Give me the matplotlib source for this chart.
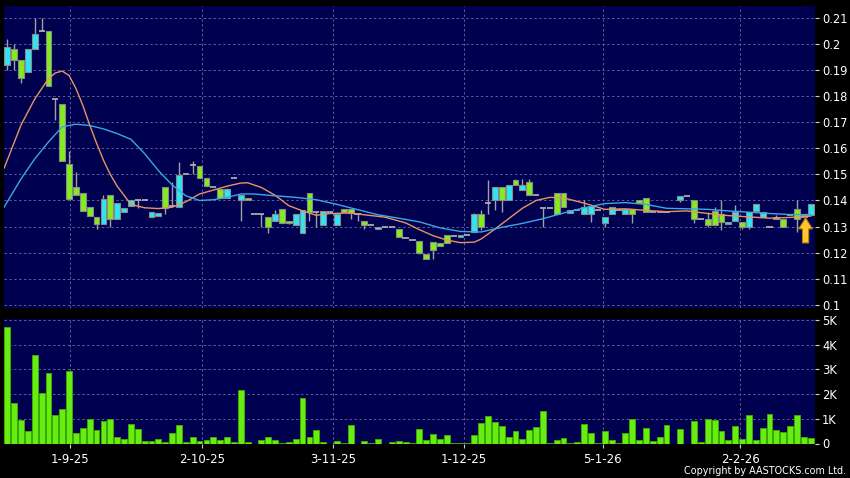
import numpy as np
import matplotlib.pyplot as plt
from matplotlib.patches import FancyArrow

# OHLC per trading day (None = no candle)
opens = [0.192, 0.198, 0.194, 0.1895, 0.198, 0.205, 0.205, 0.179, 0.177, 0.154,
         0.145, 0.1427, 0.1375, 0.1337, 0.131, 0.142, 0.133, 0.1356, 0.1377, 0.140,
         0.140, 0.1337, 0.134, 0.145, 0.138, 0.1375, 0.150, 0.1538, 0.1532, 0.1488,
         0.145, 0.1446, 0.1408, 0.1488, 0.140, 0.1408, 0.1348, 0.1348, 0.1337, 0.132,
         0.1369, 0.132, 0.1305, 0.1275, 0.1427, 0.1357, 0.1307, 0.1356, 0.1307, 0.1369,
         0.1367, 0.135, 0.132, 0.1307, 0.1289, 0.1298, 0.1298, 0.1289, 0.1255, 0.1248,
         0.1245, 0.1196, 0.124, 0.1237, 0.1269, 0.1265, 0.1258, 0.1268, 0.1279, 0.135,
         0.1389, 0.140, 0.145, 0.140, 0.148, 0.144, 0.147, 0.142, 0.137, 0.137,
         0.1427, 0.1427, 0.1352, 0.1365, 0.135, 0.135, 0.1365, 0.1315, 0.135, 0.1365,
         0.135, 0.1369, 0.140, 0.1408, 0.1356, 0.1356, 0.1356, None, 0.140, 0.1418,
         0.140, 0.1327, 0.1327, 0.1358, 0.135, 0.1309, 0.132, 0.1318, 0.1298, 0.1358,
         0.1337, 0.1298, 0.1337, 0.1327, 0.1345, 0.1369, 0.1337, 0.1345]
highs = [0.202, 0.200, 0.194, 0.198, 0.210, 0.210, 0.205, 0.179, 0.177, 0.159,
         0.151, 0.1427, 0.1375, 0.1337, 0.142, 0.142, 0.139, 0.137, 0.140, 0.140,
         0.140, 0.1356, 0.1353, 0.145, 0.147, 0.1548, 0.150, 0.1553, 0.1532, 0.1488,
         0.145, 0.1446, 0.1448, 0.1488, 0.142, 0.1408, 0.1348, 0.1348, 0.1337, 0.1363,
         0.1369, 0.132, 0.135, 0.1365, 0.1427, 0.1357, 0.1358, 0.1356, 0.1348, 0.1369,
         0.1367, 0.135, 0.132, 0.1307, 0.1298, 0.1298, 0.1298, 0.1289, 0.1255, 0.1248,
         0.1245, 0.1196, 0.124, 0.1237, 0.1269, 0.1265, 0.1268, 0.1268, 0.1352, 0.1365,
         0.148, 0.145, 0.145, 0.1459, 0.1483, 0.1483, 0.1482, 0.142, 0.137, 0.137,
         0.1427, 0.1427, 0.1363, 0.1365, 0.140, 0.1378, 0.1365, 0.1337, 0.1375, 0.1365,
         0.1369, 0.1369, 0.140, 0.1408, 0.1356, 0.1356, 0.1356, None, 0.1418, 0.1418,
         0.140, 0.1327, 0.1356, 0.1375, 0.140, 0.1318, 0.1382, 0.1318, 0.1356, 0.1388,
         0.1354, 0.1298, 0.1345, 0.1327, 0.1345, 0.140, 0.1345, 0.1388]
lows = [0.190, 0.190, 0.185, 0.1895, 0.198, 0.205, 0.184, 0.171, 0.155, 0.1405,
        0.142, 0.136, 0.134, 0.129, 0.131, 0.130, 0.133, 0.1356, 0.1377, 0.137,
        0.140, 0.1337, 0.134, 0.135, 0.138, 0.1375, 0.150, 0.150, 0.1488, 0.1456,
        0.145, 0.1408, 0.1408, 0.1488, 0.132, 0.140, 0.1348, 0.130, 0.1277, 0.132,
        0.1312, 0.131, 0.1305, 0.1275, 0.132, 0.130, 0.1307, 0.1356, 0.1307, 0.1356,
        0.1327, 0.132, 0.129, 0.1307, 0.1289, 0.1298, 0.1298, 0.1258, 0.1255, 0.1248,
        0.1196, 0.1177, 0.1177, 0.1225, 0.1237, 0.1265, 0.1258, 0.1268, 0.1279, 0.1285,
        0.135, 0.1365, 0.1356, 0.140, 0.1459, 0.144, 0.142, 0.142, 0.1298, 0.137,
        0.135, 0.1375, 0.1352, 0.1365, 0.135, 0.1318, 0.1365, 0.1298, 0.135, 0.1365,
        0.135, 0.1315, 0.139, 0.1356, 0.1356, 0.1356, 0.1356, None, 0.1395, 0.1418,
        0.1315, 0.1327, 0.1298, 0.1307, 0.1285, 0.1309, 0.132, 0.1289, 0.1289, 0.1358,
        0.1337, 0.1298, 0.1327, 0.1298, 0.1345, 0.128, 0.1337, 0.1345]
closes = [0.199, 0.194, 0.187, 0.198, 0.204, 0.205, 0.184, 0.179, 0.155, 0.1405,
          0.142, 0.136, 0.134, 0.131, 0.1405, 0.133, 0.139, 0.137, 0.140, 0.140,
          0.140, 0.1356, 0.1353, 0.137, 0.138, 0.1497, 0.150, 0.1538, 0.1488, 0.1456,
          0.145, 0.1408, 0.1446, 0.1488, 0.142, 0.140, 0.1348, 0.1348, 0.130, 0.135,
          0.1312, 0.1313, 0.135, 0.1365, 0.1357, 0.1357, 0.1358, 0.1356, 0.1348, 0.1356,
          0.1352, 0.135, 0.1307, 0.1307, 0.1298, 0.1298, 0.1298, 0.1258, 0.1255, 0.1248,
          0.1197, 0.1177, 0.121, 0.1225, 0.1237, 0.1265, 0.1268, 0.1268, 0.135, 0.1298,
          0.1389, 0.145, 0.140, 0.1459, 0.1459, 0.146, 0.142, 0.142, 0.137, 0.137,
          0.135, 0.1375, 0.1363, 0.1365, 0.1375, 0.1378, 0.1365, 0.1337, 0.1375, 0.1365,
          0.1369, 0.135, 0.139, 0.1356, 0.1356, 0.1356, 0.1356, None, 0.1418, 0.1418,
          0.1327, 0.1327, 0.1307, 0.1307, 0.1318, 0.1318, 0.1356, 0.1298, 0.1356, 0.1388,
          0.1354, 0.1298, 0.1327, 0.1298, 0.1345, 0.1327, 0.1345, 0.1388]
# volume in thousands
volumes = [4.73, 1.64, 0.96, 0.51, 3.57, 2.05, 2.85, 1.17, 1.39, 2.92,
           0.41, 0.64, 1.01, 0.55, 0.92, 1.01, 0.25, 0.20, 0.77, 0.60,
           0.12, 0.12, 0.17, 0.07, 0.44, 0.76, 0.07, 0.25, 0.12, 0.16,
           0.27, 0.13, 0.28, 0.08, 2.16, 0.08, 0.0, 0.16, 0.27, 0.15,
           0.02, 0.07, 0.19, 1.84, 0.27, 0.55, 0.07, 0.0, 0.10, 0.02,
           0.76, 0.0, 0.09, 0.04, 0.20, 0.0, 0.08, 0.12, 0.08, 0.04,
           0.60, 0.13, 0.40, 0.17, 0.36, 0.04, 0.04, 0.02, 0.33, 0.81,
           1.13, 0.89, 0.72, 0.27, 0.49, 0.17, 0.53, 0.67, 1.32, 0.04,
           0.16, 0.23, 0.04, 0.05, 0.77, 0.44, 0.03, 0.52, 0.16, 0.04,
           0.43, 0.99, 0.13, 0.63, 0.11, 0.27, 0.75, 0.0, 0.57, 0.0,
           0.92, 0.08, 1.00, 0.97, 0.51, 0.13, 0.71, 0.17, 1.16, 0.15,
           0.61, 1.20, 0.53, 0.48, 0.72, 1.16, 0.27, 0.21]

# moving averages (bar index, value)
ma_short_x = [-0.45, 0, 2, 4, 6, 7, 8, 9, 10, 11, 12, 13, 14, 15, 16, 17, 18, 20, 22, 24,
              26, 28, 30, 32, 34, 35, 37, 39, 41, 43, 45, 47, 50, 52, 55, 58, 60, 62, 64,
              66, 68, 69, 71, 73, 75, 77, 79, 81, 84, 87, 90, 93, 96, 99, 102, 105, 108,
              111, 114, 117]
ma_short = [0.1525, 0.1555, 0.169, 0.179, 0.1868, 0.189, 0.1897, 0.188, 0.183, 0.1765,
            0.169, 0.162, 0.1555, 0.150, 0.1455, 0.142, 0.1385, 0.1372, 0.1369, 0.1374,
            0.1395, 0.1425, 0.144, 0.1455, 0.1467, 0.1468, 0.145, 0.142, 0.138, 0.136,
            0.1343, 0.135, 0.1352, 0.1345, 0.1336, 0.1314, 0.1288, 0.1265, 0.1248,
            0.1238, 0.124, 0.1252, 0.129, 0.133, 0.137, 0.140, 0.1412, 0.141, 0.139,
            0.1366, 0.1368, 0.1362, 0.1357, 0.136, 0.135, 0.1342, 0.1337, 0.1332,
            0.1335, 0.134]
ma_long_x = [-0.45, 2, 4, 6, 8, 10, 12, 14, 16, 18, 20, 22, 24, 26, 28, 30, 32, 34, 36,
             38, 42, 45, 48, 51, 54, 57, 60, 63, 66, 69, 72, 75, 78, 81, 84, 87, 90, 93,
             96, 99, 102, 105, 108, 111, 114, 117]
ma_long = [0.1375, 0.1483, 0.156, 0.1625, 0.1683, 0.1693, 0.1688, 0.1675, 0.1657,
           0.1635, 0.158, 0.1515, 0.146, 0.1418, 0.140, 0.1403, 0.1412, 0.1425, 0.1425,
           0.142, 0.1412, 0.1403, 0.1385, 0.1365, 0.1345, 0.1332, 0.1318, 0.1295,
           0.1281, 0.1279, 0.1297, 0.1312, 0.133, 0.1352, 0.1372, 0.1388, 0.1392,
           0.1385, 0.137, 0.1368, 0.1366, 0.136, 0.1355, 0.135, 0.1346, 0.1346]

date_ticks = [9.2, 28.3, 47.4, 66.5, 86.7, 106.7]
date_labels = ['1-9-25', '2-10-25', '3-11-25', '1-12-25', '5-1-26', '2-2-26']
price_ticks = [0.10, 0.11, 0.12, 0.13, 0.14, 0.15, 0.16, 0.17, 0.18, 0.19, 0.20, 0.21]
price_labels = ['0.1', '0.11', '0.12', '0.13', '0.14', '0.15', '0.16', '0.17',
                '0.18', '0.19', '0.2', '0.21']
vol_ticks = [0, 1, 2, 3, 4, 5]
vol_labels = ['0', '1K', '2K', '3K', '4K', '5K']

plt.rcParams['font.family'] = 'DejaVu Sans'

navy = '#000050'
grid_c = '#5e5e90'
cyan = '#30e4f2'
green = '#84ec1e'

fig = plt.figure(figsize=(8.5, 4.78), dpi=100, facecolor='black')
ax1 = fig.add_axes([4 / 850, 1 - 307.5 / 478, 811 / 850, 301.5 / 478])
ax2 = fig.add_axes([4 / 850, 1 - 443.5 / 478, 811 / 850, 124.5 / 478])

o = np.array(opens, dtype=float)
h = np.array(highs, dtype=float)
l = np.array(lows, dtype=float)
c = np.array(closes, dtype=float)
idx = np.arange(len(o))
valid = ~np.isnan(o)
up = valid & (c > o)
down = valid & (c < o)
flat = valid & (c == o)

ax1.vlines(idx[valid], l[valid], h[valid], color='#a0a0a0', lw=1, zorder=2)
ax1.bar(idx[up], c[up] - o[up], bottom=o[up], width=0.85, color=cyan,
        edgecolor='#8a8a8a', lw=0.8, zorder=3)
ax1.bar(idx[down], o[down] - c[down], bottom=c[down], width=0.85, color=green,
        edgecolor='#8a8a8a', lw=0.8, zorder=3)
ax1.hlines(o[flat], idx[flat] - 0.45, idx[flat] + 0.45, color='#b8b8b8', lw=1.2, zorder=3)

ax1.plot(ma_short_x, ma_short, color='#e89460', lw=1, zorder=4)
ax1.plot(ma_long_x, ma_long, color='#3aa8e6', lw=1, zorder=4)

# yellow arrow under the latest bar
ax_x = len(o) - 1.75
ax_top = l[-2] - 0.0004
ax1.add_patch(FancyArrow(ax_x, ax_top - 0.0096, 0, 0.0096, width=0.9, head_width=2.0,
                         head_length=0.0042, length_includes_head=True,
                         fc='#ffc832', ec='#b88000', lw=0.8, zorder=5))

ax2.bar(idx, volumes, width=0.85, color='#66ee12', edgecolor='#3fa800', lw=0.7, zorder=3)

xlim = (-0.48, 117.62)
for ax in (ax1, ax2):
    ax.set_facecolor(navy)
    ax.set_xlim(*xlim)
    for s in ax.spines.values():
        s.set_visible(False)
    ax.yaxis.tick_right()
    ax.set_xticks(date_ticks)
    ax.grid(True, color=grid_c, linestyle=(0, (2.5, 2.5)), lw=0.7, zorder=0)
    ax.set_axisbelow(True)
    ax.tick_params(axis='y', colors='#d0d0d0', labelcolor='white', length=3,
                   pad=2, labelsize=8.3)

ax1.set_ylim(0.0989, 0.2147)
ax1.set_yticks(price_ticks)
ax1.set_yticklabels(price_labels)
ax1.tick_params(axis='x', length=0, labelbottom=False)

ax2.set_ylim(0, 5.04)
ax2.set_yticks(vol_ticks)
ax2.set_yticklabels(vol_labels)
ax2.set_xticklabels(date_labels)
ax2.tick_params(axis='x', colors='#d0d0d0', labelcolor='white', length=3,
                pad=4, labelsize=8.5)

fig.text(846 / 850, 1 - 471 / 478, 'Copyright by AASTOCKS.com Ltd.', color='white',
         fontsize=6.9, ha='right', va='center')

fig.savefig('out.png', dpi=100, facecolor='black')
